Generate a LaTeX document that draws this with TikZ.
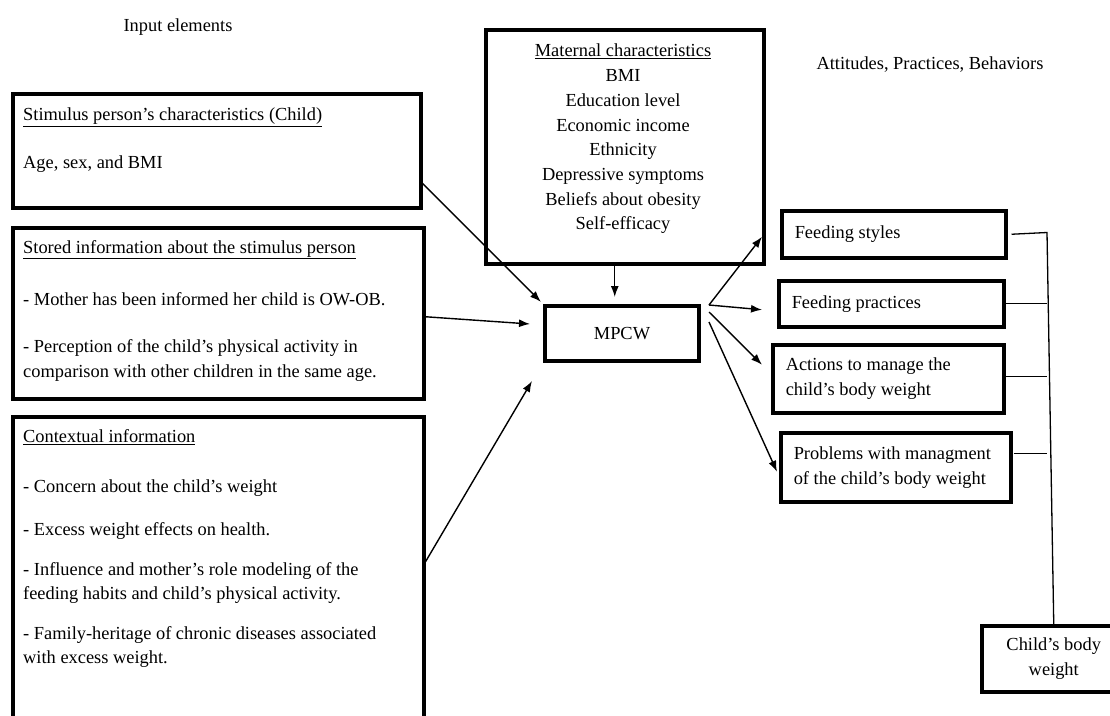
\documentclass[tikz,border=0pt]{standalone}
\usepackage{fontspec}
\setmainfont{Liberation Serif}
\usetikzlibrary{positioning, calc, arrows.meta}
\tikzset{>={Latex[length=11pt,width=8pt]}}
\newcommand{\txtsize}{\fontsize{18.4}{25}\selectfont}
\tikzset{
	frame/.style={draw, line width=3.5pt, inner sep=0pt, anchor=north west},
	txt/.style={inner sep=0pt, anchor=north west, align=flush left, font=\txtsize},
	rbox/.style={frame, inner xsep=13pt, inner ysep=0pt, align=flush left, font=\txtsize},
	arr/.style={line width=1.4pt, ->},
	link/.style={line width=1.3pt},
}

\begin{document}
\begin{tikzpicture}[x=1pt, y=-1pt]
	\useasboundingbox (0,0) rectangle (1110,715);
	\clip (0,0) rectangle (1110,715);

	% Headings
	\node[txt, anchor=center] (inhead) at (178,27) {Input elements};
	\node[txt, anchor=center] (outhead) at (930,65) {Attitudes, Practices, Behaviors};

	% Input elements
	\node[frame, minimum width=408pt, minimum height=114pt] (stim) at (11,92) {};
	\node[txt] (stimtext) at (23,108) {\underline{Stimulus person's characteristics (Child)}\\[23pt]
		Age, sex, and BMI};

	\node[frame, minimum width=411pt, minimum height=171pt] (stored) at (11,226) {};
	\node[txt] (storedtext) at (23,240) {\underline{Stored information about the stimulus person}\\[27pt]
		- Mother has been informed her child is OW-OB.\\[22pt]
		- Perception of the child's physical activity in\\
		comparison with other children in the same age.};

	\node[frame, minimum width=411pt, minimum height=320pt] (ctx) at (11,415) {};
	\node[txt, font=\fontsize{18.4}{24}\selectfont] (ctxtext) at (23,429) {\underline{Contextual information}\\[26pt]
		- Concern about the child's weight\\[19pt]
		- Excess weight effects on health.\\[16pt]
		- Influence and mother's role modeling of the\\
		feeding habits and child's physical activity.\\[16pt]
		- Family-heritage of chronic diseases associated\\
		with excess weight.};

	% Maternal characteristics
	\node[frame, minimum width=278pt, minimum height=234pt] (mat) at (484,28) {};
	\node[txt, anchor=north, align=center, font=\fontsize{18.4}{24.7}\selectfont] (mattext) at (623,44)
		{\underline{Maternal characteristics}\\BMI\\Education level\\Economic income\\Ethnicity\\
		Depressive symptoms\\Beliefs about obesity\\Self-efficacy};

	% MPCW
	\node[frame, line width=4pt, minimum width=154pt, minimum height=55pt, font=\txtsize] (mpcw) at (543,304) {MPCW};

	% Outcomes
	\node[rbox, text width=198pt, minimum height=47pt] (fs) at (780,209) {Feeding styles};
	\node[rbox, text width=199pt, minimum height=46pt] (fp) at (777,279) {Feeding practices};
	\node[rbox, text width=205pt, minimum height=68pt] (act) at (771,343) {Actions to manage the\\child's body weight};
	\node[rbox, text width=204pt, minimum height=69pt] (prob) at (779,431) {Problems with managment\\of the child's body weight};

	\node[frame, minimum width=144pt, minimum height=66pt, align=center, font=\txtsize] (child) at (980,624) {Child's body\\weight};

	% Arrows into MPCW
	\draw[arr, shorten >=3pt] (stim.-9.2) -- (mpcw.north west);
	\draw[arr] ([yshift=-3.5pt]stored.east) -- ([xshift=-13pt,yshift=9.5pt]mpcw.west);
	\draw[arr] ([yshift=15pt]ctx.east) -- ([xshift=-11pt,yshift=-18pt]mpcw.south west);
	\draw[arr] ([xshift=-10pt]mat.south) -- ($(mat.south |- mpcw.north)+(-10,-7)$);

	% Arrows out of MPCW
	\coordinate (fan) at ($(mpcw.east)+(8,-28.5)$);
	\draw[arr] (fan) -- ($(fs.west)+(-18,2.5)$);
	\draw[arr] (fan) -- ($(fp.west)+(-15,6)$);
	\draw[arr] ($(mpcw.east)+(8,-21.5)$) -- ($(act.west)+(-9,-14)$);
	\draw[arr] ($(mpcw.east)+(8,-11.5)$) -- ($(prob.west)+(-2,4.5)$);

	% Links to child's body weight
	\coordinate (bus) at (1047,232.5);
	\draw[link] ([xshift=4pt]fs.east) -- (bus) -- (child.north);
	\draw[link] (fp.east) -- (fp.east -| bus);
	\draw[link] ($(act.east)+(0,-2)$) -- ($(act.east -| bus)+(0,-2)$);
	\draw[link] ($(prob.east)+(1,-13.5)$) -- ($(prob.east -| bus)+(0,-13.5)$);
\end{tikzpicture}
\end{document}
